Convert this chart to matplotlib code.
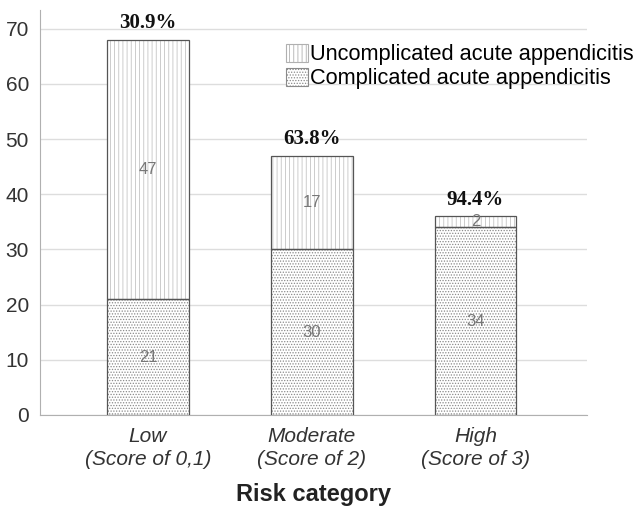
import matplotlib
matplotlib.use('Agg')
import matplotlib.pyplot as plt
import matplotlib.patches as mpatches
import numpy as np

categories = ['Low\n(Score of 0,1)', 'Moderate\n(Score of 2)', 'High\n(Score of 3)']
complicated = [21, 30, 34]
uncomplicated = [47, 17, 2]
percent = ['30.9%', '63.8%', '94.4%']

plt.rcParams['font.family'] = ['Liberation Sans', 'DejaVu Sans']
plt.rcParams['hatch.linewidth'] = 0.6

fig = plt.figure(figsize=(6.38, 5.09), dpi=100)
ax = fig.add_axes([0.0627, 0.1847, 0.857, 0.7957])

x = np.arange(len(categories))
w = 0.5
comp = np.array(complicated)
unc = np.array(uncomplicated)

# hatched fill first, outlines drawn on top
ax.bar(x, comp, w, color='white', hatch='......', edgecolor='#8a8a8a', linewidth=0, zorder=2)
ax.bar(x, unc, w, bottom=comp, color='white', hatch='||||', edgecolor='#c4c4c4', linewidth=0, zorder=2)
ax.bar(x, comp, w, fill=False, edgecolor='#555555', linewidth=0.9, zorder=3)
ax.bar(x, unc, w, bottom=comp, fill=False, edgecolor='#555555', linewidth=0.9, zorder=3)

for i in range(len(x)):
    ax.text(x[i], comp[i] / 2, str(comp[i]), ha='center', va='center',
            fontsize=12, color='#777777', zorder=4)
    ax.text(x[i], comp[i] + unc[i] / 2, str(unc[i]), ha='center', va='center',
            fontsize=12, color='#777777', zorder=4)
    ax.text(x[i], comp[i] + unc[i] + 1.2, percent[i], ha='center', va='bottom',
            fontsize=15, fontweight='bold', family='Liberation Serif', color='#111111')

ax.set_xlim(-0.66, 2.68)
ax.set_ylim(0, 73.4)
ax.set_yticks(np.arange(0, 71, 10))
ax.set_xticks(x)
ax.set_xticklabels(categories, fontsize=15, style='italic', color='#333333', linespacing=1.25)
ax.tick_params(axis='y', labelsize=15, labelcolor='#333333', length=0, pad=8)
ax.tick_params(axis='x', length=0, pad=9)
ax.yaxis.grid(True, color='#dddddd', linewidth=1)
ax.set_axisbelow(True)
for s in ['top', 'right']:
    ax.spines[s].set_visible(False)
for s in ['left', 'bottom']:
    ax.spines[s].set_color('#b0b0b0')

ax.set_xlabel('Risk category', fontsize=17, fontweight='bold', color='#222222', labelpad=10)

h1 = mpatches.Patch(facecolor='white', hatch='||||', edgecolor='#b0b0b0', linewidth=0.8)
h2 = mpatches.Patch(facecolor='white', hatch='......', edgecolor='#8a8a8a', linewidth=0.8)
fig.legend([h1, h2], ['Uncomplicated acute appendicitis', 'Complicated acute appendicitis'],
           loc='upper left', bbox_to_anchor=(0.449, 0.914), frameon=False,
           fontsize=15.7, handlelength=1.0, handleheight=0.9, handletextpad=0.1,
           labelspacing=0.1, borderpad=0, borderaxespad=0)

fig.savefig('out.png', dpi=100)
